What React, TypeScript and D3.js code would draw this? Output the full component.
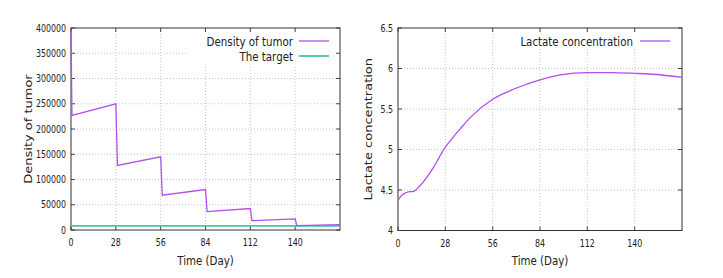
import * as d3 from "d3";
import { useEffect, useRef } from "react";

// tumor density (left panel)
const tumorDays = [0, 0.6, 28, 29, 56, 57, 84, 85, 112, 113, 140, 141, 168];
const tumorValues = [395000, 227000, 250000, 128000, 145000, 69000, 80000, 36500, 42500, 18500, 22000, 8500, 10500];
const targetDays = [0, 168];
const targetValues = [8000, 8000];

// lactate concentration (right panel)
const lactateDays = [0, 2, 4, 7, 9, 11, 15, 21, 28, 31, 37, 43, 56, 69, 84, 96, 112, 126, 140, 156, 168];
const lactateValues = [4.37, 4.43, 4.46, 4.48, 4.48, 4.51, 4.6, 4.78, 5.03, 5.11, 5.26, 5.4, 5.62, 5.75, 5.86, 5.92, 5.95, 5.95, 5.94, 5.92, 5.89];

const dayTicks = [0, 28, 56, 84, 112, 140];
const densityTicks = [0, 50000, 100000, 150000, 200000, 250000, 300000, 350000, 400000];
const lactateTicks = [4, 4.5, 5, 5.5, 6, 6.5];

const FONT = "DejaVu Sans, sans-serif";
const SX = 0.79; // horizontal squeeze of the source picture
const PURPLE = "#b04ef2";
const TEAL = "#3fc9a6";

function txt(g, x, y, s, size, anchor, rotate = false) {
  g.append("text")
    .attr("transform", `translate(${x},${y}) scale(${SX},1)${rotate ? " rotate(-90)" : ""}`)
    .attr("text-anchor", anchor)
    .attr("font-family", FONT)
    .attr("font-size", size)
    .attr("fill", "#222")
    .text(s);
}

function panel(svg, opts) {
  const { left, right, top, bottom, yDomain, yTicks, yFmt, ylabel, legendBox } = opts;
  const g = svg.append("g");
  const x = d3.scaleLinear().domain([0, 168]).range([left, right]);
  const y = d3.scaleLinear().domain(yDomain).range([bottom, top]);

  // grid
  const grid = g.append("g").attr("stroke", "#b8b8b8").attr("stroke-width", 0.8).attr("stroke-dasharray", "1,2");
  dayTicks.slice(1).forEach((d) => {
    grid.append("line").attr("x1", x(d)).attr("x2", x(d)).attr("y1", top).attr("y2", bottom);
  });
  yTicks.slice(1, -1).forEach((d) => {
    grid.append("line").attr("x1", left).attr("x2", right).attr("y1", y(d)).attr("y2", y(d));
  });
  // legend box hides grid
  g.append("rect")
    .attr("x", legendBox[0]).attr("y", top + 1)
    .attr("width", right - legendBox[0] - 1).attr("height", legendBox[1] - top)
    .attr("fill", "#fff");

  // ticks (inward, mirrored)
  const tk = g.append("g").attr("stroke", "#444").attr("stroke-width", 1);
  dayTicks.forEach((d) => {
    tk.append("line").attr("x1", x(d)).attr("x2", x(d)).attr("y1", bottom).attr("y2", bottom - 4);
    tk.append("line").attr("x1", x(d)).attr("x2", x(d)).attr("y1", top).attr("y2", top + 4);
    txt(g, x(d), bottom + 16, String(d), 10, "middle");
  });
  yTicks.forEach((d) => {
    tk.append("line").attr("x1", left).attr("x2", left + 4).attr("y1", y(d)).attr("y2", y(d));
    tk.append("line").attr("x1", right).attr("x2", right - 4).attr("y1", y(d)).attr("y2", y(d));
    txt(g, left - 5, y(d) + 3.5, yFmt(d), 10, "end");
  });

  g.append("rect")
    .attr("x", left).attr("y", top)
    .attr("width", right - left).attr("height", bottom - top)
    .attr("fill", "none").attr("stroke", "#333").attr("stroke-width", 1);

  txt(g, (left + right) / 2, 265, "Time (Day)", 13, "middle");
  txt(g, opts.ylabelX, (top + bottom) / 2, ylabel, 13, "middle", true);

  return { g, x, y };
}

const App = () => {
  const ref = useRef(null);

  useEffect(() => {
    const svg = d3.select(ref.current);
    svg.selectAll("*").remove();

    // left panel
    const L = panel(svg, {
      left: 71, right: 340, top: 28, bottom: 230,
      yDomain: [0, 400000], yTicks: densityTicks, yFmt: (d) => String(d),
      ylabel: "Density of tumor", ylabelX: 32, legendBox: [188, 64],
    });
    const lineL = d3.line().x((d) => L.x(d[0])).y((d) => L.y(d[1]));
    L.g.append("path")
      .attr("d", lineL(targetDays.map((d, i) => [d, targetValues[i]])))
      .attr("fill", "none").attr("stroke", TEAL).attr("stroke-width", 1.8);
    L.g.append("path")
      .attr("d", lineL(tumorDays.map((d, i) => [d, tumorValues[i]])))
      .attr("fill", "none").attr("stroke", PURPLE).attr("stroke-width", 1.3);

    txt(L.g, 293, 46, "Density of tumor", 13, "end");
    L.g.append("line").attr("x1", 299).attr("x2", 329).attr("y1", 41).attr("y2", 41)
      .attr("stroke", PURPLE).attr("stroke-width", 1.3);
    txt(L.g, 293, 61, "The target", 13, "end");
    L.g.append("line").attr("x1", 299).attr("x2", 329).attr("y1", 56).attr("y2", 56)
      .attr("stroke", TEAL).attr("stroke-width", 1.8);

    // right panel
    const R = panel(svg, {
      left: 398, right: 682, top: 28, bottom: 230.5,
      yDomain: [4, 6.5], yTicks: lactateTicks, yFmt: (d) => String(d),
      ylabel: "Lactate concentration", ylabelX: 372, legendBox: [517, 47],
    });
    const lineR = d3.line().x((d) => R.x(d[0])).y((d) => R.y(d[1])).curve(d3.curveMonotoneX);
    R.g.append("path")
      .attr("d", lineR(lactateDays.map((d, i) => [d, lactateValues[i]])))
      .attr("fill", "none").attr("stroke", PURPLE).attr("stroke-width", 1.3);

    txt(R.g, 633, 46, "Lactate concentration", 13, "end");
    R.g.append("line").attr("x1", 640).attr("x2", 670).attr("y1", 41).attr("y2", 41)
      .attr("stroke", PURPLE).attr("stroke-width", 1.3);
  }, []);

  return (
    <svg
      ref={ref}
      width={723}
      height={278}
      style={{ position: "absolute", left: 0, top: 0, background: "#fff" }}
    />
  );
};

export default App;
